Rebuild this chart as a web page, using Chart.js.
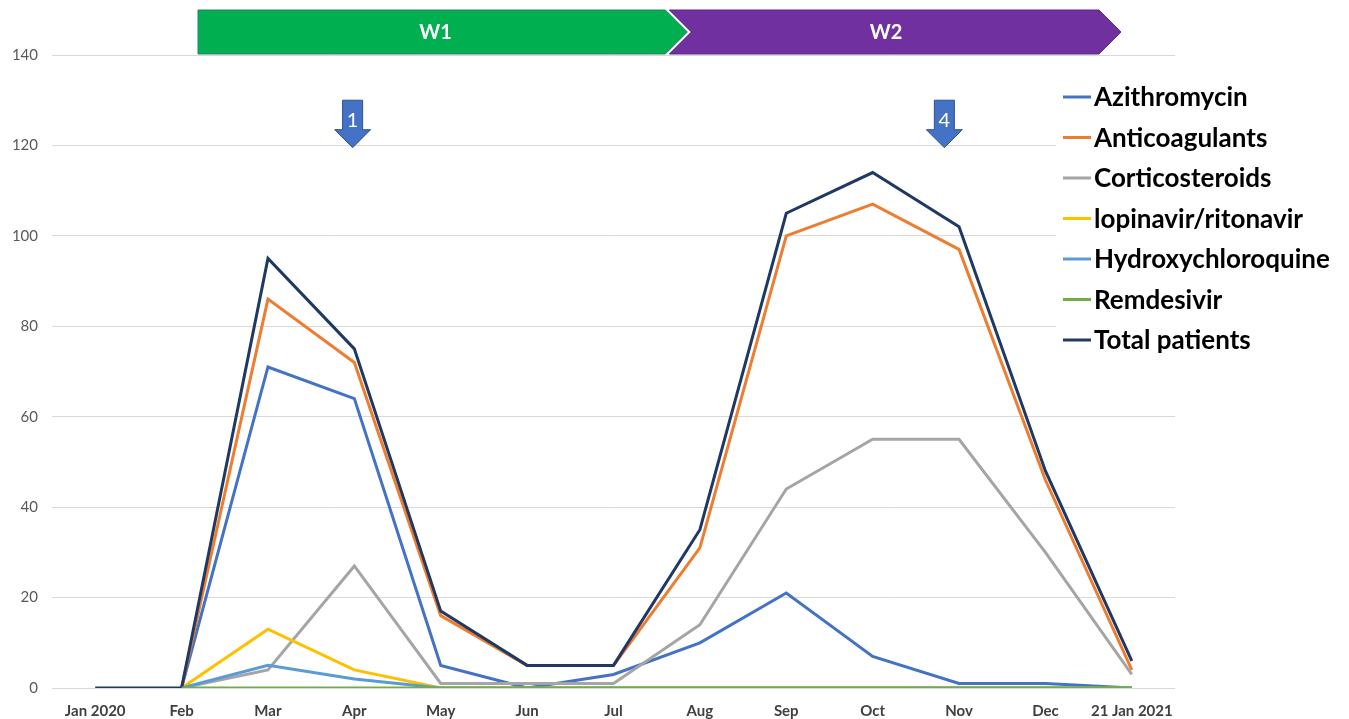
<!DOCTYPE html>
<html>
<head>
<meta charset="utf-8">
<script src="https://cdn.jsdelivr.net/npm/chart.js@4.4.0/dist/chart.umd.min.js"></script>
<style>
html,body{margin:0;padding:0;background:#fff}
#wrap{width:1349px;height:719px;position:relative}
</style>
</head>
<body>
<div id="wrap"><canvas id="ChartA"></canvas></div>
<script>
let months = ['Jan 2020','Feb','Mar','Apr','May','Jun','Jul','Aug','Sep','Oct','Nov','Dec','21 Jan 2021'];
let azithromycin   = [null,0,71,64,5,0,3,10,21,7,1,1,0];
let anticoagulants = [null,0,86,72,16,5,5,31,100,107,97,46,4];
let corticosteroids= [null,0,4,27,1,1,1,14,44,55,55,30,3];
let lopinavir      = [null,0,13,4,0,0,0,0,0,0,0,0,0];
let hydroxy        = [null,0,5,2,0,0,0,0,0,0,0,0,0];
let remdesivir     = [null,0,0,0,0,0,0,0,0,0,0,0,0];
let totalPatients  = [0,0,95,75,17,5,5,35,105,114,102,48,6];
let yTicks = [0,20,40,60,80,100,120,140];

// waves, in category index units
let waveNames = ['W1','W2'];
let waveFrom  = [1.19, 6.6];
let waveTo    = [6.6, 11.62];
let waveColors = ['#00B050','#7030A0'];
// arrows (period markers)
let markNames = ['1','4'];
let markAt    = [2.98, 9.83];

var series = [
  {label:'Azithromycin', data:azithromycin, color:'#4472C4', order:6},
  {label:'Anticoagulants', data:anticoagulants, color:'#ED7D31', order:2},
  {label:'Corticosteroids', data:corticosteroids, color:'#A5A5A5', order:5},
  {label:'lopinavir/ritonavir', data:lopinavir, color:'#FFC000', order:4},
  {label:'Hydroxychloroquine', data:hydroxy, color:'#5B9BD5', order:3},
  {label:'Remdesivir', data:remdesivir, color:'#70AD47', order:0},
  {label:'Total patients', data:totalPatients, color:'#1F3864', order:1}
];

var extras = {
  id: 'extras',
  beforeDatasetsDraw: function(chart) {
    var ctx = chart.ctx;
    ctx.save();
    ctx.fillStyle = '#fff';
    ctx.fillRect(1056, 74, 293, 288);
    ctx.restore();
  },
  afterDraw: function(chart) {
    var ctx = chart.ctx;
    var xs = chart.scales.x, ys = chart.scales.y;
    ctx.save();
    // wave banners
    var top = chart.chartArea.top - 45, bot = chart.chartArea.top - 1, mid = (top + bot) / 2;
    for (var i = 0; i < waveNames.length; i++) {
      var x0 = xs.getPixelForValue(waveFrom[i]);
      var x1 = xs.getPixelForValue(waveTo[i]);
      var tip = 22;
      ctx.beginPath();
      if (i == 0) {
        ctx.moveTo(x0, top);
      } else {
        ctx.moveTo(x0 + 4, top);
      }
      ctx.lineTo(x1, top);
      ctx.lineTo(x1 + tip, mid);
      ctx.lineTo(x1, bot);
      if (i == 0) {
        ctx.lineTo(x0, bot);
      } else {
        ctx.lineTo(x0 + 4, bot);
        ctx.lineTo(x0 + 4 + tip, mid);
      }
      ctx.closePath();
      ctx.fillStyle = waveColors[i];
      ctx.fill();
      ctx.lineWidth = 1;
      ctx.strokeStyle = i == 0 ? '#2E7D6E' : '#5A2A86';
      ctx.stroke();
      ctx.fillStyle = '#fff';
      ctx.font = 'bold 20px Lato';
      ctx.textAlign = 'center';
      ctx.textBaseline = 'middle';
      ctx.fillText(waveNames[i], (x0 + x1) / 2 + 4, mid + 1);
    }
    // down arrows
    for (var j = 0; j < markNames.length; j++) {
      var ax = xs.getPixelForValue(markAt[j]);
      var yTop = ys.getPixelForValue(130), yTip = ys.getPixelForValue(119.5);
      var yNeck = yTip - 18;
      ctx.beginPath();
      ctx.moveTo(ax - 10, yTop);
      ctx.lineTo(ax + 10, yTop);
      ctx.lineTo(ax + 10, yNeck);
      ctx.lineTo(ax + 18, yNeck);
      ctx.lineTo(ax, yTip);
      ctx.lineTo(ax - 18, yNeck);
      ctx.lineTo(ax - 10, yNeck);
      ctx.closePath();
      ctx.fillStyle = '#4472C4';
      ctx.fill();
      ctx.strokeStyle = '#2F528F';
      ctx.lineWidth = 1;
      ctx.stroke();
      ctx.fillStyle = '#fff';
      ctx.font = '20px Lato';
      ctx.textAlign = 'center';
      ctx.textBaseline = 'middle';
      ctx.fillText(markNames[j], ax, yTop + 20);
    }
    // legend
    var ly = 97;
    for (var k = 0; k < series.length; k++) {
      ctx.strokeStyle = series[k].color;
      ctx.lineWidth = 3;
      ctx.beginPath();
      ctx.moveTo(1063, ly);
      ctx.lineTo(1091, ly);
      ctx.stroke();
      ctx.fillStyle = '#000';
      ctx.font = 'bold 26px Lato';
      ctx.textAlign = 'left';
      ctx.textBaseline = 'middle';
      ctx.fillText(series[k].label, 1094, ly + 1);
      ly += 40.5;
    }
    ctx.restore();
  }
};

function createGraphA()
{
  var ctx = document.getElementById('ChartA').getContext('2d');
  var myChart = new Chart(ctx, {
    type: 'line',
    data: {
      labels: months,
      datasets: series.map(function(s) {
        return {
          label: s.label, data: s.data, borderColor: s.color, backgroundColor: s.color,
          borderWidth: 3, pointRadius: 0, tension: 0, order: s.order, spanGaps: false
        };
      })
    },
    options: {
      responsive: true,
      maintainAspectRatio: false,
      animation: false,
      layout: { padding: { top: 55, right: 174, left: 0, bottom: 0 } },
      plugins: { legend: { display: false }, tooltip: { enabled: false } },
      scales: {
        x: {
          offset: true,
          grid: { display: false },
          border: { display: false },
          ticks: { color: '#404040', font: { family: 'Lato', size: 15, weight: 'bold' }, maxRotation: 0, autoSkip: false, padding: 6 },
          afterFit: function(scale) { scale.height = 31; }
        },
        y: {
          min: 0, max: 140,
          afterBuildTicks: function(scale) { scale.ticks = yTicks.map(function(v) { return { value: v }; }); },
          grid: { color: '#D9D9D9', lineWidth: 1, drawTicks: false },
          border: { display: false },
          ticks: { color: '#595959', font: { family: 'Lato', size: 15 }, padding: 14 },
          afterFit: function(scale) { scale.width = 52; }
        }
      }
    },
    plugins: [extras]
  });
}
createGraphA();
</script>
</body>
</html>
